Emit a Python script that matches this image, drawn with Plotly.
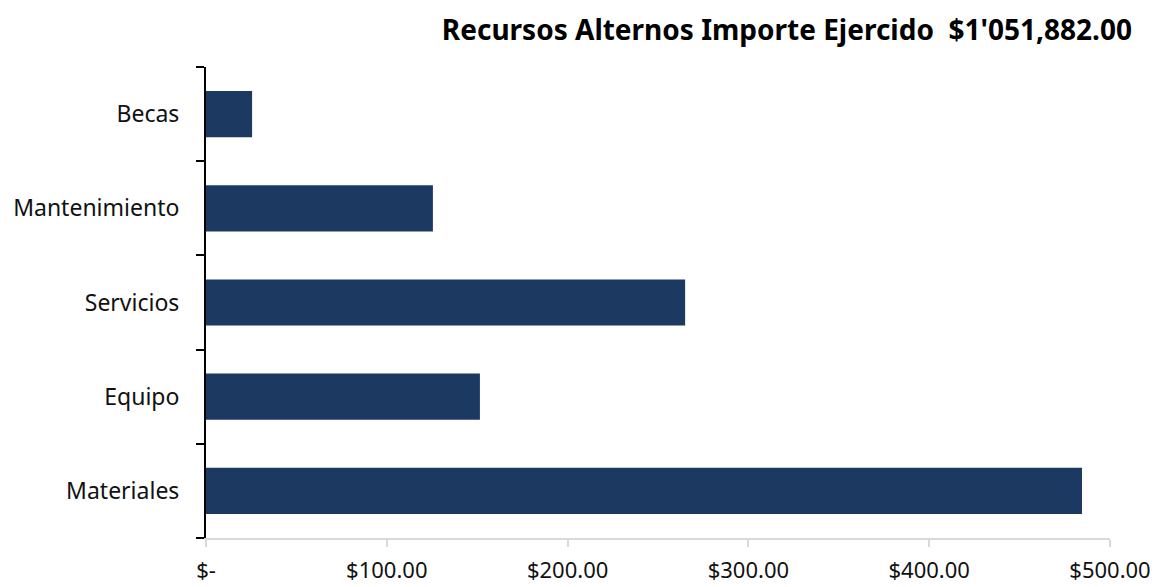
import plotly.graph_objects as go

categories = ["Materiales", "Equipo", "Servicios", "Mantenimiento", "Becas"]
values = [484.5, 151.5, 265.0, 125.5, 25.5]
tick_vals = [0, 100, 200, 300, 400, 500]
tick_text = ["$-", "$100.00", "$200.00", "$300.00", "$400.00", "$500.00"]
title_text = "Recursos Alternos Importe Ejercido  $1'051,882.00"

fig = go.Figure(go.Bar(
    x=values, y=categories, orientation="h",
    marker=dict(color="#1b3961", line=dict(width=0)),
    width=0.49,
))

fig.update_layout(
    width=1158, height=587,
    margin=dict(l=206, r=48, t=67, b=49, autoexpand=False),
    paper_bgcolor="white", plot_bgcolor="white",
    font=dict(family="Noto Sans", size=23, color="#111111"),
    showlegend=False,
    title=dict(text="<b>" + title_text + "</b>", x=0.9775, xanchor="right",
               y=1 - 30 / 587, yanchor="middle", xref="container", yref="container",
               font=dict(family="Noto Sans", size=28, color="black")),
    bargap=0.5,
)
fig.update_xaxes(
    range=[0, 500], tickvals=tick_vals, ticktext=tick_text,
    showgrid=False, zeroline=False, showline=True, linecolor="#d9d9d9", linewidth=2,
    ticks="outside", ticklen=7, tickcolor="#d9d9d9", tickwidth=2,
    tickfont=dict(size=22), ticklabelstandoff=5, automargin=False, fixedrange=True,
)
fig.update_yaxes(
    categoryorder="array", categoryarray=categories,
    showgrid=False, zeroline=False, showline=True, linecolor="black", linewidth=2,
    ticks="outside", tickson="boundaries", ticklen=8, tickcolor="black", tickwidth=2,
    tickfont=dict(size=23), ticklabelstandoff=20, automargin=False, fixedrange=True,
)

fig.write_html("out.html", config={"displayModeBar": False},
               post_script="document.body.style.margin='0';")
